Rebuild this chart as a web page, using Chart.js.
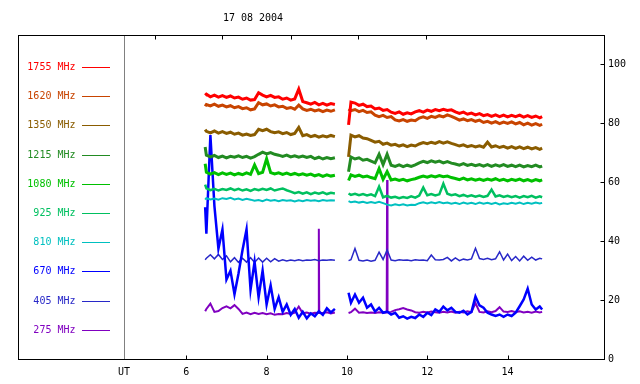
<!DOCTYPE html>
<html>
<head>
<meta charset="utf-8">
<script src="https://cdn.jsdelivr.net/npm/chart.js@4.4.1/dist/chart.umd.min.js"></script>
<style>
  body { margin: 0; background: #fff; }
  #wrap { width: 640px; height: 384px; }
</style>
</head>
<body>
<div id="wrap"><canvas id="myChart" width="640" height="384"></canvas></div>
<script>
const title = "17 08 2004";

// UT hours, null row at 9.87 splits the two recordings
const times = [
  6.47, 6.5, 6.6, 6.7, 6.8, 6.9, 7.0, 7.1, 7.2, 7.3,
  7.4, 7.5, 7.6, 7.7, 7.8, 7.9, 8.0, 8.1, 8.2, 8.3,
  8.4, 8.5, 8.6, 8.7, 8.8, 8.9, 9.0, 9.1, 9.2, 9.3,
  9.4, 9.5, 9.6, 9.7,
  9.87,
  10.04, 10.1, 10.2, 10.3, 10.4, 10.5, 10.6, 10.7, 10.8, 10.9,
  11.0, 11.1, 11.2, 11.3, 11.4, 11.5, 11.6, 11.7, 11.8, 11.9,
  12.0, 12.1, 12.2, 12.3, 12.4, 12.5, 12.6, 12.7, 12.8, 12.9,
  13.0, 13.1, 13.2, 13.3, 13.4, 13.5, 13.6, 13.7, 13.8, 13.9,
  14.0, 14.1, 14.2, 14.3, 14.4, 14.5, 14.6, 14.7, 14.8, 14.86
];
// 275 MHz has two narrow bursts, sampled a bit finer there
const times275 = [
  6.47, 6.5, 6.6, 6.7, 6.8, 6.9, 7.0, 7.1, 7.2, 7.3,
  7.4, 7.5, 7.6, 7.7, 7.8, 7.9, 8.0, 8.1, 8.2, 8.3,
  8.4, 8.5, 8.6, 8.7, 8.8, 8.9, 9.0, 9.1, 9.2, 9.29, 9.3, 9.31,
  9.4, 9.5, 9.6, 9.7,
  9.87,
  10.04, 10.1, 10.2, 10.3, 10.4, 10.5, 10.6, 10.7, 10.8, 10.9,
  10.99, 11.0, 11.01, 11.1, 11.2, 11.3, 11.4, 11.5, 11.6, 11.7, 11.8, 11.9,
  12.0, 12.1, 12.2, 12.3, 12.4, 12.5, 12.6, 12.7, 12.8, 12.9,
  13.0, 13.1, 13.2, 13.3, 13.4, 13.5, 13.6, 13.7, 13.8, 13.9,
  14.0, 14.1, 14.2, 14.3, 14.4, 14.5, 14.6, 14.7, 14.8, 14.86
];

const labels = ["1755 MHz", "1620 MHz", "1350 MHz", "1215 MHz", "1080 MHz",
  "925 MHz", "810 MHz", "670 MHz", "405 MHz", "275 MHz"];
const colors = ["#ff0000", "#c84400", "#8a5c00", "#228b22", "#00c000",
  "#00c060", "#00c0c0", "#0000ff", "#2828c8", "#8000c0"];
const widths = [3, 3, 3, 3, 3, 2.5, 2, 2.5, 1.5, 2];

const mhz1755 = [
  89.5, 89.9, 89.0, 89.6, 88.9, 89.4, 88.8, 89.3, 88.6, 88.9,
  88.2, 88.6, 87.9, 88.1, 90.4, 89.6, 89.0, 89.5, 88.8, 89.0,
  88.2, 88.6, 87.9, 88.3, 91.6, 87.4, 87.0, 86.5, 87.1, 86.3,
  86.8, 86.2, 86.7, 86.4,
  null,
  79.5, 87.2, 86.9, 86.1, 86.5, 85.7, 85.9, 84.9, 85.2, 84.4,
  84.7, 83.8, 83.4, 83.9, 83.1, 83.6, 83.2, 83.9, 84.3, 83.8,
  84.5, 84.1, 84.7, 84.3, 84.8, 84.4, 84.6, 83.9, 83.4, 83.8,
  83.1, 83.5, 82.9, 83.3, 82.6, 83.0, 82.4, 82.9, 82.3, 82.8,
  82.2, 82.7, 82.3, 82.8, 82.1, 82.6, 82.0, 82.5, 81.9, 82.3
];
const mhz1620 = [
  85.8, 86.4, 85.9, 86.5, 85.8, 86.2, 85.6, 86.0, 85.3, 85.7,
  85.0, 85.3, 84.6, 84.9, 87.0, 86.3, 86.6, 85.9, 86.3, 85.6,
  85.8, 85.1, 85.4, 84.8, 86.2, 84.9, 84.4, 84.8, 84.2, 84.6,
  84.0, 84.5, 84.1, 84.6,
  null,
  84.9, 84.3, 84.7, 84.0, 84.4, 83.7, 83.9, 82.8, 82.3, 82.7,
  82.0, 82.3, 81.2, 80.8, 81.3, 80.7, 81.1, 80.9, 81.8, 82.2,
  81.7, 82.4, 82.0, 82.6, 82.2, 82.9, 82.4, 81.8, 81.1, 81.5,
  80.9, 81.3, 80.7, 81.1, 80.3, 80.7, 80.1, 80.6, 79.9, 80.4,
  80.0, 80.5, 79.8, 80.3, 79.5, 80.1, 79.4, 79.9, 79.3, 79.7
];
const mhz1350 = [
  77.9, 77.3, 76.8, 77.4, 76.7, 77.2, 76.6, 77.0, 76.3, 76.7,
  76.0, 76.4, 75.9, 76.2, 78.0, 77.5, 78.0, 77.2, 76.8, 77.1,
  76.5, 76.9, 76.2, 76.6, 78.6, 75.8, 76.2, 75.5, 75.9, 75.3,
  75.8, 75.4, 75.9, 75.5,
  null,
  68.6, 76.0, 75.4, 75.8, 75.0, 74.8, 74.2, 73.6, 73.9, 72.9,
  73.3, 72.6, 72.9, 72.3, 72.7, 72.1, 72.6, 72.3, 73.0, 73.5,
  73.1, 73.6, 73.2, 73.8, 73.3, 73.7, 73.2, 72.8, 72.3, 72.7,
  72.1, 72.5, 72.0, 72.4, 71.9, 73.6, 72.0, 72.4, 71.8, 72.2,
  71.6, 72.1, 71.5, 72.0, 71.4, 71.9, 71.3, 71.8, 71.2, 71.6
];
const mhz1215 = [
  72.0, 69.2, 68.6, 69.1, 68.4, 68.9, 68.3, 68.8, 68.5, 69.0,
  68.4, 68.8, 68.2, 68.7, 69.5, 70.2, 69.6, 70.1, 69.5, 69.2,
  68.8, 69.2, 68.6, 69.0, 68.5, 68.9, 68.4, 68.8, 68.0, 68.5,
  67.9, 68.4, 68.0, 68.3,
  null,
  63.6, 68.6, 67.9, 68.3, 67.5, 67.8, 67.2, 66.6, 69.5, 66.0,
  69.5, 65.8, 65.4, 65.9, 65.3, 65.8, 65.4, 65.9, 66.6, 67.1,
  66.7, 67.3, 66.8, 67.2, 66.6, 67.0, 66.5, 66.2, 65.8, 66.3,
  65.7, 66.1, 65.6, 66.0, 65.5, 66.0, 65.4, 65.9, 65.5, 66.0,
  65.4, 65.8, 65.3, 65.8, 65.2, 65.7, 65.3, 65.8, 65.2, 65.5
];
const mhz1080 = [
  66.3, 63.4, 62.8, 63.3, 62.6, 63.2, 62.7, 63.1, 62.5, 63.0,
  62.6, 63.2, 62.7, 65.9, 62.9, 63.4, 68.0, 63.3, 62.8, 63.2,
  62.7, 63.1, 62.6, 63.0, 62.5, 62.9, 62.4, 62.8, 62.2, 62.6,
  62.0, 62.5, 62.1, 62.4,
  null,
  60.6, 62.5, 62.0, 62.4, 61.8, 62.1, 61.6, 61.2, 64.6, 61.0,
  63.6, 60.8, 61.1, 60.6, 61.0, 60.5, 60.9, 61.2, 61.7, 62.1,
  61.7, 62.2, 61.8, 62.3, 61.9, 62.1, 61.6, 61.3, 60.9, 61.4,
  60.8, 61.2, 60.7, 61.1, 60.6, 61.1, 60.7, 61.2, 60.6, 61.0,
  60.5, 61.0, 60.6, 61.1, 60.5, 60.9, 60.4, 60.9, 60.5, 60.8
];
const mhz925 = [
  59.2, 57.9, 57.3, 57.8, 57.2, 57.7, 57.4, 57.9, 57.3, 57.8,
  57.2, 57.6, 57.1, 57.7, 57.3, 57.8, 57.4, 57.9, 57.2, 57.6,
  57.9, 57.3, 56.8, 56.3, 56.7, 56.1, 56.6, 56.0, 56.5, 56.1,
  56.6, 56.0, 56.4, 56.2,
  null,
  56.2, 55.7, 56.1, 55.6, 56.0, 55.5, 55.9, 55.3, 58.5, 54.9,
  55.4, 54.8, 55.1, 54.6, 55.0, 54.7, 55.2, 54.8, 55.5, 58.2,
  55.6, 56.0, 55.5, 55.9, 59.5, 56.1, 55.6, 55.9, 55.3, 55.7,
  55.2, 55.6, 55.1, 55.5, 55.0, 55.4, 57.5, 55.2, 55.6, 55.0,
  55.4, 54.9, 55.3, 54.8, 55.3, 54.9, 55.4, 54.8, 55.2, 54.9
];
const mhz810 = [
  54.1, 54.6, 54.2, 54.5, 54.1, 54.6, 54.3, 54.7, 54.2, 54.5,
  54.0, 54.4, 54.1, 53.7, 54.0, 53.6, 54.1, 53.7, 54.0, 53.6,
  54.0, 53.7, 53.9, 53.5, 53.9, 53.6, 54.0, 53.7, 53.9, 53.6,
  54.0, 53.7, 53.9, 53.8,
  null,
  53.6, 53.2, 53.5, 53.1, 53.4, 53.0, 53.3, 53.0, 53.4, 52.9,
  52.4, 52.1, 52.5, 52.2, 52.5, 52.1, 52.4, 52.3, 52.9, 53.2,
  52.8, 53.2, 52.9, 53.3, 52.9, 53.1, 52.7, 53.0, 52.6, 53.1,
  52.7, 53.0, 52.6, 53.1, 52.7, 53.0, 52.6, 53.0, 52.5, 52.9,
  52.6, 53.0, 52.7, 53.1, 52.6, 53.0, 52.7, 53.1, 52.8, 53.0
];
const mhz670 = [
  51.5, 42.5, 76.0, 52.0, 37.5, 44.0, 27.0, 30.0, 22.0, 29.0,
  37.0, 44.0, 23.5, 33.0, 21.0, 30.0, 18.5, 25.0, 17.0, 21.0,
  16.0, 18.5, 15.0, 17.0, 14.0, 16.0, 13.8, 15.5, 14.5, 16.2,
  15.0, 17.2, 15.8, 17.0,
  null,
  22.5, 19.1, 21.9, 19.1, 20.8, 17.4, 18.5, 16.1, 17.4, 15.7,
  16.1, 15.1, 15.7, 14.0, 14.5, 13.7, 14.3, 13.9, 15.1, 14.3,
  15.7, 14.9, 16.8, 16.0, 17.8, 16.5, 17.4, 16.0, 15.7, 16.4,
  15.1, 16.0, 21.2, 18.2, 17.4, 15.7, 15.1, 14.6, 15.1, 14.3,
  15.1, 14.6, 15.7, 17.9, 20.2, 23.9, 18.5, 16.8, 17.8, 16.8
];
const mhz405 = [
  33.7, 34.2, 35.4, 34.0, 35.5, 33.8, 35.0, 33.0, 34.4, 32.8,
  34.2, 32.9, 34.4, 32.8, 34.3, 32.9, 34.2, 33.0, 34.1, 33.2,
  33.7, 33.3, 33.6, 33.4, 33.7, 33.4, 33.6, 33.5, 33.8, 33.4,
  33.6, 33.5, 33.7, 33.5,
  null,
  33.4, 33.7, 37.5, 33.5, 33.3, 33.6, 33.2, 33.5, 36.3, 33.8,
  37.0, 33.6, 33.4, 33.7, 33.5, 33.6, 33.4, 33.7, 33.5, 33.6,
  33.4, 35.3, 33.7, 33.6, 33.8, 34.5, 33.3, 34.3, 33.4, 33.9,
  33.6, 34.0, 37.6, 34.1, 33.8, 34.2, 33.7, 34.0, 36.4, 33.6,
  35.6, 33.4, 34.8, 33.3, 34.9, 33.5, 34.6, 33.6, 34.2, 34.0
];
const mhz275 = [
  16.2, 17.0, 18.8, 16.0, 16.3, 17.3, 17.9, 17.2, 18.3, 17.0,
  15.3, 15.8, 15.2, 15.7, 15.3, 15.6, 15.2, 15.5, 15.0, 15.3,
  15.2, 15.6, 15.3, 15.7, 17.8, 15.5, 15.8, 15.4, 15.7, 15.6, 44.2, 15.7,
  15.6, 15.9, 15.5, 15.8,
  null,
  15.6, 15.9, 17.1, 15.7, 15.9, 15.6, 15.8, 15.6, 15.9, 15.7,
  15.8, 60.8, 15.9, 16.0, 16.6, 16.9, 17.3, 16.8, 16.5, 15.9, 15.7, 16.0,
  15.8, 16.1, 15.9, 15.7, 16.0, 15.8, 16.1, 15.7, 16.0, 15.8,
  16.2, 15.9, 19.0, 16.0, 15.8, 16.2, 15.9, 16.3, 17.6, 16.1,
  16.0, 16.3, 15.9, 16.2, 15.8, 16.0, 15.7, 16.1, 15.8, 16.0
];

const series = [mhz1755, mhz1620, mhz1350, mhz1215, mhz1080,
  mhz925, mhz810, mhz670, mhz405, mhz275];
const seriesTimes = [times, times, times, times, times,
  times, times, times, times, times275];

const xTicks = [6, 8, 10, 12, 14];
const topTicks = [5.22, 6.89, 8.61, 10.28, 11.97];
const yTicks = [0, 20, 40, 60, 80, 100];
const utPos = 4.45;

const FONT = '10px "DejaVu Sans Mono", monospace';
Chart.defaults.font.family = '"DejaVu Sans Mono", monospace';
Chart.defaults.font.size = 10;
Chart.defaults.color = "#000";

const datasets = series.map((vals, i) => ({
  label: labels[i],
  data: seriesTimes[i].map((t, j) => ({ x: t, y: vals[j] })),
  borderColor: colors[i],
  borderWidth: widths[i],
  pointRadius: 0,
  tension: 0,
  fill: false,
  spanGaps: false
}));

// frame, inward ticks, side legend and title
const frame = {
  id: "frame",
  afterDraw(chart) {
    const { ctx, chartArea: a, scales: { x, y } } = chart;
    const L = Math.round(a.left) + 0.5, R = Math.round(a.right) + 0.5;
    const T = Math.round(a.top) + 0.5, B = Math.round(a.bottom) + 0.5;
    ctx.save();
    ctx.strokeStyle = "#000";
    ctx.lineWidth = 1;
    ctx.strokeRect(L, T, R - L, B - T);
    ctx.beginPath();
    xTicks.forEach(v => {
      const px = Math.round(x.getPixelForValue(v)) + 0.5;
      ctx.moveTo(px, B); ctx.lineTo(px, B - 4);
    });
    topTicks.forEach(v => {
      const px = Math.round(x.getPixelForValue(v)) + 0.5;
      ctx.moveTo(px, T); ctx.lineTo(px, T + 4);
    });
    yTicks.forEach(v => {
      const py = Math.round(y.getPixelForValue(v)) + 0.5;
      ctx.moveTo(R, py); ctx.lineTo(R - 4, py);
    });
    ctx.stroke();

    ctx.font = FONT;
    ctx.textAlign = "right";
    ctx.textBaseline = "middle";
    labels.forEach((name, i) => {
      const py = Math.round(a.top + 32 + i * 29.2) + 0.5;
      ctx.fillStyle = colors[i];
      ctx.fillText(name, a.left + 57.5, py);
      ctx.strokeStyle = colors[i];
      ctx.lineWidth = 1;
      ctx.beginPath();
      ctx.moveTo(a.left + 64, py);
      ctx.lineTo(a.left + 92, py);
      ctx.stroke();
    });

    ctx.fillStyle = "#000";
    ctx.textAlign = "center";
    ctx.fillText(title, 253, 18);
    ctx.restore();
  }
};

new Chart(document.getElementById("myChart"), {
  type: "line",
  data: { datasets },
  options: {
    responsive: false,
    animation: false,
    layout: { padding: { left: 18, top: 35, right: 0, bottom: 0 } },
    plugins: { legend: { display: false }, tooltip: { enabled: false }, title: { display: false } },
    scales: {
      x: {
        type: "linear",
        min: 1.81,
        max: 16.40,
        afterBuildTicks: s => { s.ticks = [utPos, ...xTicks].map(v => ({ value: v })); },
        afterFit: s => { s.height = 25; },
        ticks: {
          autoSkip: false,
          maxRotation: 0,
          padding: 7,
          callback: v => v === utPos ? "UT" : v
        },
        grid: {
          drawTicks: false,
          color: c => (c.tick && c.tick.value === utPos) ? "#808080" : "rgba(0,0,0,0)"
        },
        border: { display: false }
      },
      y: {
        position: "right",
        min: 0,
        max: 110,
        afterBuildTicks: s => { s.ticks = yTicks.map(v => ({ value: v })); },
        afterFit: s => { s.width = 36; },
        ticks: { padding: 4 },
        grid: { drawOnChartArea: false, drawTicks: false },
        border: { display: false }
      }
    }
  },
  plugins: [frame]
});
</script>
</body>
</html>
